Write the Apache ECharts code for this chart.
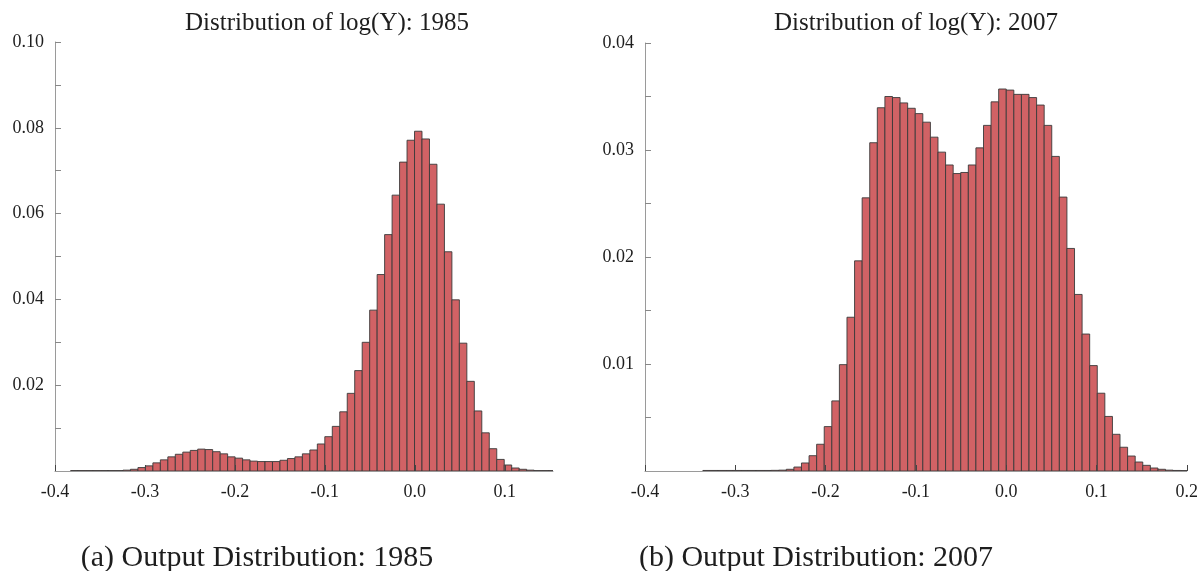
<!DOCTYPE html>
<html>
<head>
<meta charset="utf-8">
<script src="https://cdn.jsdelivr.net/npm/echarts@6/dist/echarts.min.js"></script>
<style>
  html, body { margin: 0; padding: 0; background: #ffffff; }
  #chart { width: 1201px; height: 571px; }
</style>
</head>
<body>
<div id="chart"></div>
<script>
// Histogram of log(Y), 1985: equal-width bins starting at binStart1985
const binStart1985 = -0.3826;
const binWidth1985 = 0.00831;
const density1985 = [
  0.0001, 0.0001, 0.0001, 0.0001, 0.0001, 0.0001, 0.0001, 0.0002,
  0.0004, 0.0008, 0.0012, 0.0019, 0.0026, 0.0033, 0.0039, 0.0044, 0.0048, 0.0051,
  0.0050, 0.0045, 0.0040, 0.0033, 0.0030, 0.0026, 0.0023, 0.0022, 0.0022, 0.0022,
  0.0025, 0.0029, 0.0033, 0.0040, 0.0049, 0.0063, 0.0080, 0.0104, 0.0138, 0.0181,
  0.0234, 0.0300, 0.0375, 0.0458, 0.0551, 0.0643, 0.0720, 0.0771, 0.0792, 0.0774,
  0.0715, 0.0622, 0.0511, 0.0399, 0.0298, 0.0209, 0.0140, 0.0089, 0.0052, 0.0027,
  0.0014, 0.0007, 0.0004,
  0.0002, 0.0001, 0.0001, 0.0001
];

// Histogram of log(Y), 2007
const binStart2007 = -0.3359;
const binWidth2007 = 0.0084;
const density2007 = [
  0.00005, 0.00005, 0.00005, 0.00005, 0.00005, 0.00005, 0.00005, 0.00005, 0.00005, 0.00006, 0.00008,
  0.00016, 0.00037, 0.00075, 0.00143, 0.0025, 0.00415, 0.00655, 0.00994, 0.01437, 0.01964,
  0.02553, 0.03068, 0.03395, 0.0350, 0.0349, 0.0344, 0.0339, 0.0334, 0.0326, 0.0312,
  0.0298, 0.0286, 0.0278, 0.0279, 0.0286, 0.0302, 0.0323, 0.0345, 0.0357, 0.0356,
  0.0352, 0.0352, 0.0349, 0.0342, 0.0323, 0.0294, 0.0256, 0.0208, 0.0165, 0.0128,
  0.00985, 0.00727, 0.0051, 0.00343, 0.00222, 0.0014, 0.00084, 0.00053, 0.00028, 0.00016,
  0.00008, 0.00005, 0.00004
];

// Axis ranges, tick marks and tick labels
const xMax1985 = 0.1536;
const xMax2007 = 0.2;
const xTicks1985 = [-0.4, -0.3, -0.2, -0.1, 0.0, 0.1];
const xTicks2007 = [-0.4, -0.3, -0.2, -0.1, 0.0, 0.1, 0.2];
const yMax1985 = 0.10;
const yMax2007 = 0.04;
const yTicks1985 = [0.01, 0.02, 0.03, 0.04, 0.05, 0.06, 0.07, 0.08, 0.09, 0.10];
const yLabels1985 = [0.02, 0.04, 0.06, 0.08, 0.10];
const yTicks2007 = [0.005, 0.01, 0.015, 0.02, 0.025, 0.03, 0.035, 0.04];
const yLabels2007 = [0.01, 0.02, 0.03, 0.04];

const panelTitles = ['Distribution of log(Y): 1985', 'Distribution of log(Y): 2007'];
const captions = ['(a) Output Distribution: 1985', '(b) Output Distribution: 2007'];

const SERIF = '"Liberation Serif", "DejaVu Serif", serif';
const TEXT = '#1e1e1e';

function toBins(start, width, values) {
  return values.map((v, i) => [start + i * width, start + (i + 1) * width, v]);
}

function renderBar(params, api) {
  const top = api.coord([api.value(0), api.value(2)]);
  const bottom = api.coord([api.value(1), 0]);
  return {
    type: 'rect',
    shape: { x: top[0], y: top[1], width: bottom[0] - top[0], height: bottom[1] - top[1] },
    style: { fill: '#d16265', stroke: '#3a3a3a', lineWidth: 0.9 }
  };
}

function xAxisFor(gridIndex, max, ticks) {
  return {
    type: 'value', gridIndex, min: -0.4, max, z: 5,
    splitLine: { show: false },
    axisLine: { show: true, onZero: false, lineStyle: { color: '#9a9a9a', width: 1 } },
    axisTick: { show: true, inside: true, length: 6, customValues: ticks, lineStyle: { color: '#444', width: 1 } },
    axisLabel: {
      customValues: ticks, margin: 12, fontFamily: SERIF, fontSize: 18, color: TEXT,
      formatter: v => Number(v).toFixed(1)
    }
  };
}

function yAxisFor(gridIndex, max, ticks, labels) {
  return {
    type: 'value', gridIndex, min: 0, max,
    splitLine: { show: false },
    axisLine: { show: true, onZero: false, lineStyle: { color: '#9a9a9a', width: 1 } },
    axisTick: { show: true, inside: true, length: 6, customValues: ticks, lineStyle: { color: '#888', width: 1 } },
    axisLabel: {
      customValues: labels, margin: 11, fontFamily: SERIF, fontSize: 18, color: TEXT,
      formatter: v => Number(v).toFixed(2)
    }
  };
}

function textEl(text, x, y, size) {
  return {
    type: 'text', x, y,
    style: { text, fill: TEXT, font: size + 'px ' + SERIF, align: 'center', verticalAlign: 'middle' }
  };
}

const chart = echarts.init(document.getElementById('chart'), null, { renderer: 'canvas' });
chart.setOption({
  animation: false,
  backgroundColor: '#ffffff',
  grid: [
    { left: 55, top: 42, width: 498, height: 429 },
    { left: 645, top: 43, width: 542, height: 428 }
  ],
  xAxis: [xAxisFor(0, xMax1985, xTicks1985), xAxisFor(1, xMax2007, xTicks2007)],
  yAxis: [
    yAxisFor(0, yMax1985, yTicks1985, yLabels1985),
    yAxisFor(1, yMax2007, yTicks2007, yLabels2007)
  ],
  series: [
    {
      type: 'custom', xAxisIndex: 0, yAxisIndex: 0, clip: true,
      renderItem: renderBar, encode: { x: [0, 1], y: 2 },
      data: toBins(binStart1985, binWidth1985, density1985)
    },
    {
      type: 'custom', xAxisIndex: 1, yAxisIndex: 1, clip: true,
      renderItem: renderBar, encode: { x: [0, 1], y: 2 },
      data: toBins(binStart2007, binWidth2007, density2007)
    }
  ],
  graphic: [
    textEl(panelTitles[0], 327, 23, 25),
    textEl(panelTitles[1], 916, 23, 25),
    textEl(captions[0], 257, 558, 30),
    textEl(captions[1], 816, 558, 30)
  ]
});
</script>
</body>
</html>
